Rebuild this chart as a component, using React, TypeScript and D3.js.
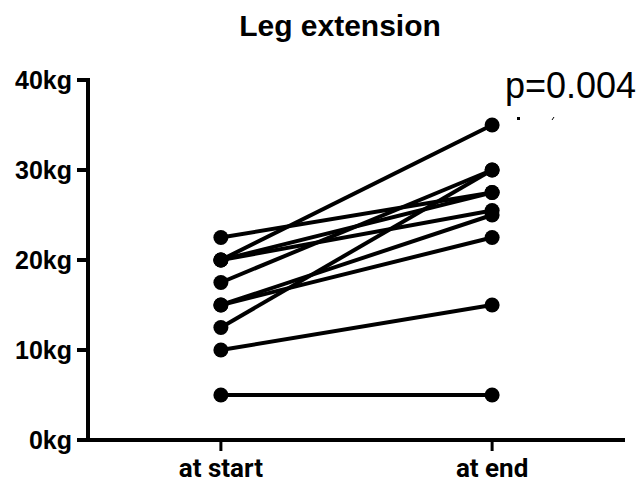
import React from "react";
import * as d3 from "d3";

// Paired measurements per subject (kg)
const timepoints = ["at start", "at end"];
const startValues = [22.5, 20, 20, 20, 17.5, 15, 15, 12.5, 10, 5];
const endValues = [27.5, 35, 27.5, 25.5, 30, 25, 22.5, 30, 15, 5];
const yTicks = [0, 10, 20, 30, 40];
const title = "Leg extension";
const pLabel = "p=0.004";

const W = 644;
const H = 483;

export default function App() {
  const x = d3.scalePoint<string>().domain(timepoints).range([88, 625]).padding(0.49);
  const y = d3.scaleLinear().domain([0, 40]).range([440, 80]);

  const pairs = startValues.map((s, i) => [s, endValues[i]]);
  const line = d3
    .line<number>()
    .x((_, i) => x(timepoints[i]) as number)
    .y((d) => y(d));

  const boldFont = "'Liberation Sans', Arial, sans-serif";

  return (
    <svg
      width={W}
      height={H}
      style={{ position: "absolute", left: 0, top: 0, background: "#fff" }}
    >
      <text
        x={340}
        y={36}
        textAnchor="middle"
        fontFamily={boldFont}
        fontWeight="bold"
        fontSize={30}
        fill="#000"
      >
        {title}
      </text>

      {/* paired lines */}
      {pairs.map((p, i) => (
        <path key={"l" + i} d={line(p) || ""} fill="none" stroke="#000" strokeWidth={4} />
      ))}
      {/* dots */}
      {pairs.map((p, i) =>
        p.map((v, j) => (
          <circle
            key={"c" + i + "-" + j}
            cx={x(timepoints[j]) as number}
            cy={y(v)}
            r={7.5}
            fill="#000"
          />
        ))
      )}

      {/* y axis */}
      <line x1={88} x2={88} y1={y(40) - 2} y2={y(0)} stroke="#000" strokeWidth={4} />
      {yTicks.map((t) => (
        <g key={"yt" + t}>
          <line x1={77} x2={88} y1={y(t)} y2={y(t)} stroke="#000" strokeWidth={4} />
          <text
            x={72}
            y={y(t)}
            dy="0.36em"
            textAnchor="end"
            fontFamily={boldFont}
            fontWeight="bold"
            fontSize={25}
            fill="#000"
          >
            {t}kg
          </text>
        </g>
      ))}

      {/* x axis */}
      <line x1={77} x2={625} y1={y(0)} y2={y(0)} stroke="#000" strokeWidth={4} />
      {timepoints.map((t) => (
        <g key={"xt" + t}>
          <line
            x1={x(t) as number}
            x2={x(t) as number}
            y1={y(0)}
            y2={y(0) + 11}
            stroke="#000"
            strokeWidth={3}
          />
          <text
            x={x(t) as number}
            y={477}
            textAnchor="middle"
            fontFamily="Roboto, sans-serif"
            fontWeight="bold"
            fontSize={26}
            fill="#000"
          >
            {t}
          </text>
        </g>
      ))}

      <text x={505} y={98} fontFamily="'Liberation Sans', Arial, sans-serif" fontSize={36} fill="#000">
        {pLabel}
      </text>
      <rect x={517} y={117} width={3} height={3} fill="#000" />
      <line x1={552} x2={554} y1={120} y2={117} stroke="#000" strokeWidth={1} />
    </svg>
  );
}
